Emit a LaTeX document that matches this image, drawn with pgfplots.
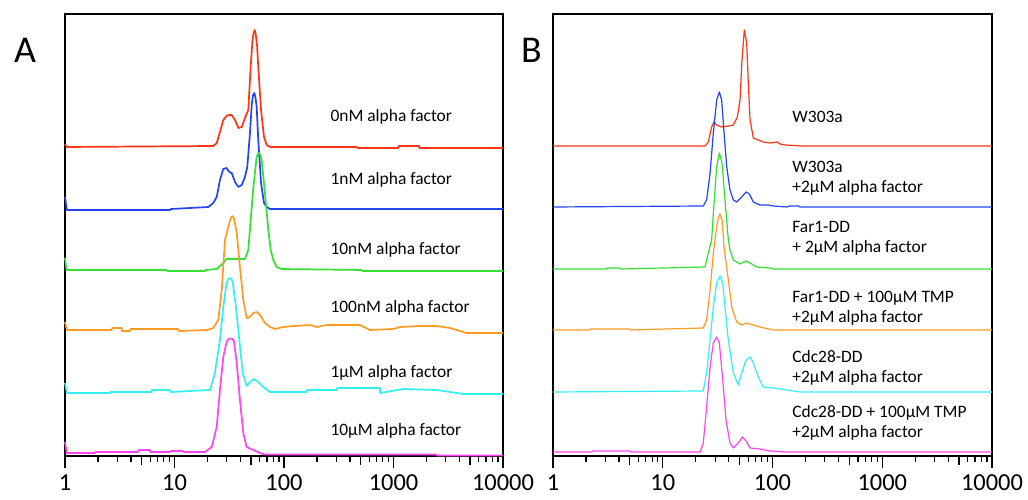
\documentclass[border=0pt]{standalone}
\usepackage{fontspec}
\setmainfont{Carlito}
\usepackage{pgfplots}
\pgfplotsset{compat=1.18}
\definecolor{cred}{HTML}{FF3414}
\definecolor{cblue}{HTML}{2244F2}
\definecolor{cgreen}{HTML}{33E033}
\definecolor{corange}{HTML}{FF9B22}
\definecolor{ccyan}{HTML}{33F0F0}
\definecolor{cmag}{HTML}{FF44F0}
\tikzset{lab/.style={anchor=west, font=\fontsize{17.5}{20.5}\selectfont, align=left}}

\begin{document}
\begin{tikzpicture}
\path[use as bounding box] (0bp,0bp) rectangle (1028bp,500bp);
\node[font=\fontsize{38}{38}\selectfont] at (25bp,449.5bp) {A};
\node[font=\fontsize{38}{38}\selectfont] at (531.5bp,449.5bp) {B};

% panel A
\begin{axis}[
  at={(65bp,44bp)}, anchor=south west,
  scale only axis, width=438bp, height=442bp,
  xmode=log, xmin=1, xmax=10000, ymin=0, ymax=442,
  ytick=\empty, xtick pos=bottom, xtick align=outside,
  xtick={1,10,100,1000,10000},
  xticklabels={1,10,100,1000,10000},
  minor xtick={2,3,4,6,7,8,9,20,30,40,60,70,80,90,200,300,400,600,700,800,900,2000,3000,4000,6000,7000,8000,9000},
  extra x ticks={5,50,500,5000}, extra x tick labels={},
  extra x tick style={major tick length=9bp},
  major tick length=12bp, minor tick length=6bp,
  tick style={black, line width=1.2bp},
  axis line style={black, line width=1.5bp},
  xticklabel style={font=\fontsize{24.5}{26}\selectfont, yshift=-3bp},
  every axis plot/.append style={line join=round},
  clip=false]
\addplot[cred, line width=1.7bp] coordinates {
(1,312) (1.04,309) (22.6,310) (24.3,313) (26.0,324) (27.9,336) (29.9,340)
(31.5,341) (33.3,341) (35.7,336) (38.3,328) (41.1,329) (44.0,338) (47.2,346) (49.6,389)
(51.5,415) (52.7,423) (54.0,426) (55.2,422) (56.8,410) (58.2,389) (61.7,346) (65.7,319)
(69.5,311) (74.5,309)
(461,309) (470,308) (1107,308) (1115,310) (1710,310) (1721,308) (10000,308)};
\addplot[cblue, line width=1.7bp] coordinates {
(1,259) (1.04,246) (9.1,246) (9.3,247) (20.4,249) (22.6,253) (24.3,259) (26.0,276)
(27.9,287) (29.9,288) (31.7,284) (33.3,283) (35.7,274) (38.3,269) (41.1,271)
(44.0,279) (46.2,289) (48.9,323) (50.8,352) (52.2,361) (53.6,363) (55.0,358) (56.3,349) (58.2,316)
(61.7,273) (65.7,253) (69.5,249) (74.5,247) (10000,247)};
\addplot[cgreen, line width=1.7bp] coordinates {
(1,198) (1.03,186) (8.5,186) (8.6,185) (19,185) (19.2,186) (24.3,187) (27.9,193)
(29.9,197) (34.5,197) (44.0,197) (47.2,206) (52.5,269) (56.3,299) (57.7,302) (59.1,303)
(60.8,301) (62.5,296) (67.0,263) (71.9,226) (75.6,206) (79.9,196) (85.7,189) (95.2,187)
(512,186) (520,185) (10000,185)};
\addplot[corange, line width=1.7bp] coordinates {
(1,134) (1.04,126) (2.67,126) (2.7,128) (3.29,128) (3.3,125) (3.92,125) (3.95,127)
(10.8,127) (11,125) (20,126) (22.6,128) (25.1,136) (27.0,166) (28.9,216) (31.0,229)
(32.6,238) (33.8,240) (34.9,238) (37.0,223) (39.6,189) (42.5,156) (45.6,138) (48.9,139)
(52.5,143) (56.3,144) (60.4,141) (67.0,133) (74.5,129) (82.8,127) (98.6,129)
(122,130) (173,131) (199,129) (245,131) (494,131) (610,126) (995,127) (1146,129)
(1746,130) (2478,130) (3281,128) (4660,123) (10000,123)};
\addplot[ccyan, line width=1.7bp] coordinates {
(1,73) (1.04,63) (2.58,63) (2.6,64) (6.19,64) (6.2,66) (9.1,66) (9.2,64) (21.1,66)
(23.4,83) (26.0,116) (27.9,149) (29.9,173) (31.0,177) (32.1,178) (33.1,177) (34.0,174) (36.4,149)
(39.1,116) (42.0,83) (45.6,70) (48.9,74) (53.2,77) (58.2,74) (64.7,69) (74.5,64)
(160,64) (161,66) (303,66) (305,68) (753,68) (755,63) (1230,67) (2478,66)
(3281,64) (4350,62) (10000,62)};
\addplot[cmag, line width=1.7bp] coordinates {
(1,14) (1.04,3) (1.88,3) (1.9,4) (4.67,4) (4.7,6) (5.97,6) (6,4) (9.1,4) (9.2,5)
(12,5) (12.1,4) (19,4) (21.9,9) (24.3,29) (26,66) (27.9,99) (29.9,114) (31.2,117) (32.6,117.5)
(33.8,117) (34.9,115) (37,93) (39.6,56) (42.5,23) (45.6,9) (52.5,6) (60.4,3) (67,1.5)
(2478,1.5) (2500,0.5) (10000,0.5)};
\node[lab] at (axis cs:247,339) {0nM alpha factor};
\node[lab] at (axis cs:247,276) {1nM alpha factor};
\node[lab] at (axis cs:247,206) {10nM alpha factor};
\node[lab] at (axis cs:247,148) {100nM alpha factor};
\node[lab] at (axis cs:247,83) {1μM alpha factor};
\node[lab] at (axis cs:247,25) {10μM alpha factor};
\end{axis}

% panel B
\begin{axis}[
  at={(553bp,44bp)}, anchor=south west,
  scale only axis, width=439bp, height=442bp,
  xmode=log, xmin=1, xmax=10000, ymin=0, ymax=442,
  ytick=\empty, xtick pos=bottom, xtick align=outside,
  xtick={1,10,100,1000,10000},
  xticklabels={1,10,100,1000,10000},
  minor xtick={2,3,4,6,7,8,9,20,30,40,60,70,80,90,200,300,400,600,700,800,900,2000,3000,4000,6000,7000,8000,9000},
  extra x ticks={5,50,500,5000}, extra x tick labels={},
  extra x tick style={major tick length=9bp},
  major tick length=12bp, minor tick length=6bp,
  tick style={black, line width=1.2bp},
  axis line style={black, line width=1.5bp},
  xticklabel style={font=\fontsize{24.5}{26}\selectfont, yshift=-3bp},
  every axis plot/.append style={line join=round},
  clip=false]
\addplot[cred, line width=1.2bp] coordinates {
(1,310) (24.3,310) (26.0,314) (27.9,329) (29.3,334) (31.0,331) (34.4,329)
(39.6,330) (44.0,331) (47.8,339) (50.6,356) (52.7,396) (55.4,426) (58.2,413)
(60.2,373) (62.4,336) (66.9,318) (74.3,316) (82.4,314) (94.9,313) (111,314)
(117,312) (130,311) (184,310) (10000,310)};
\addplot[cblue, line width=1.2bp] coordinates {
(1,249) (23.4,250) (25.1,256) (27.0,283) (28.9,323) (31.0,356) (32.8,364)
(34.4,356) (36.2,323) (38.3,289) (41.0,266) (44.0,256) (47.2,254) (52.4,259)
(57.4,264) (61.5,262) (66.9,254) (76.9,251) (91.6,251) (102,250) (135,249)
(144,250) (172,250) (178,249) (10000,249)};
\addplot[cgreen, line width=1.2bp] coordinates {
(1,187) (3.09,187) (3.1,188) (4.08,188) (4.1,187) (24.3,189) (26.0,203) (27.9,216)
(28.9,243) (31.0,289) (32.8,303) (34.7,293) (36.9,256) (39.6,216) (41.0,206)
(44.0,196) (50.6,192) (57.4,195) (62.4,193) (71.8,189) (94.9,188) (102,187)
(10000,187)};
\addplot[corange, line width=1.2bp] coordinates {
(1,126) (2.17,126) (2.2,127) (5.03,127) (5.1,126) (23.4,128) (25.1,136) (27.0,166)
(28.9,203) (29.9,216) (31.0,228) (32.1,238) (33.2,242) (34.7,236) (36.2,209)
(39.6,176) (42.5,149) (47.2,134) (52.4,131) (57.4,133) (66.9,131) (76.9,129)
(102,126) (10000,126)};
\addplot[ccyan, line width=1.2bp] coordinates {
(1,64) (23.4,65) (25.1,83) (27.0,116) (28.9,149) (31.0,173) (33.2,180) (35.2,173)
(36.9,149) (39.6,116) (44.0,83) (48.8,71) (52.4,83) (57.4,96) (62.4,99) (66.9,93)
(74.3,79) (82.4,69) (102,68) (135,66) (178,64) (10000,64)};
\addplot[cmag, line width=1.2bp] coordinates {
(1,4) (2.25,4) (2.3,5) (5.03,5) (5.1,4) (21.9,4) (23.4,13) (25.1,49) (27.0,89)
(28.9,113) (31.0,119) (32.8,113) (35.2,76) (37.7,36) (41.0,13) (44.0,8) (48.8,13)
(53.1,19) (57.4,15) (62.4,8) (76.9,7) (94.9,5) (130,4) (10000,4)};
\node[lab] at (axis cs:141,339) {W303a};
\node[lab] at (axis cs:141,277.5) {W303a\\+2μM alpha factor};
\node[lab] at (axis cs:141,217.5) {Far1-DD\\+ 2μM alpha factor};
\node[lab] at (axis cs:141,148) {Far1-DD + 100μM TMP\\+2μM alpha factor};
\node[lab] at (axis cs:141,88) {Cdc28-DD\\+2μM alpha factor};
\node[lab] at (axis cs:141,33) {Cdc28-DD + 100μM TMP\\+2μM alpha factor};
\end{axis}
\end{tikzpicture}
\end{document}
